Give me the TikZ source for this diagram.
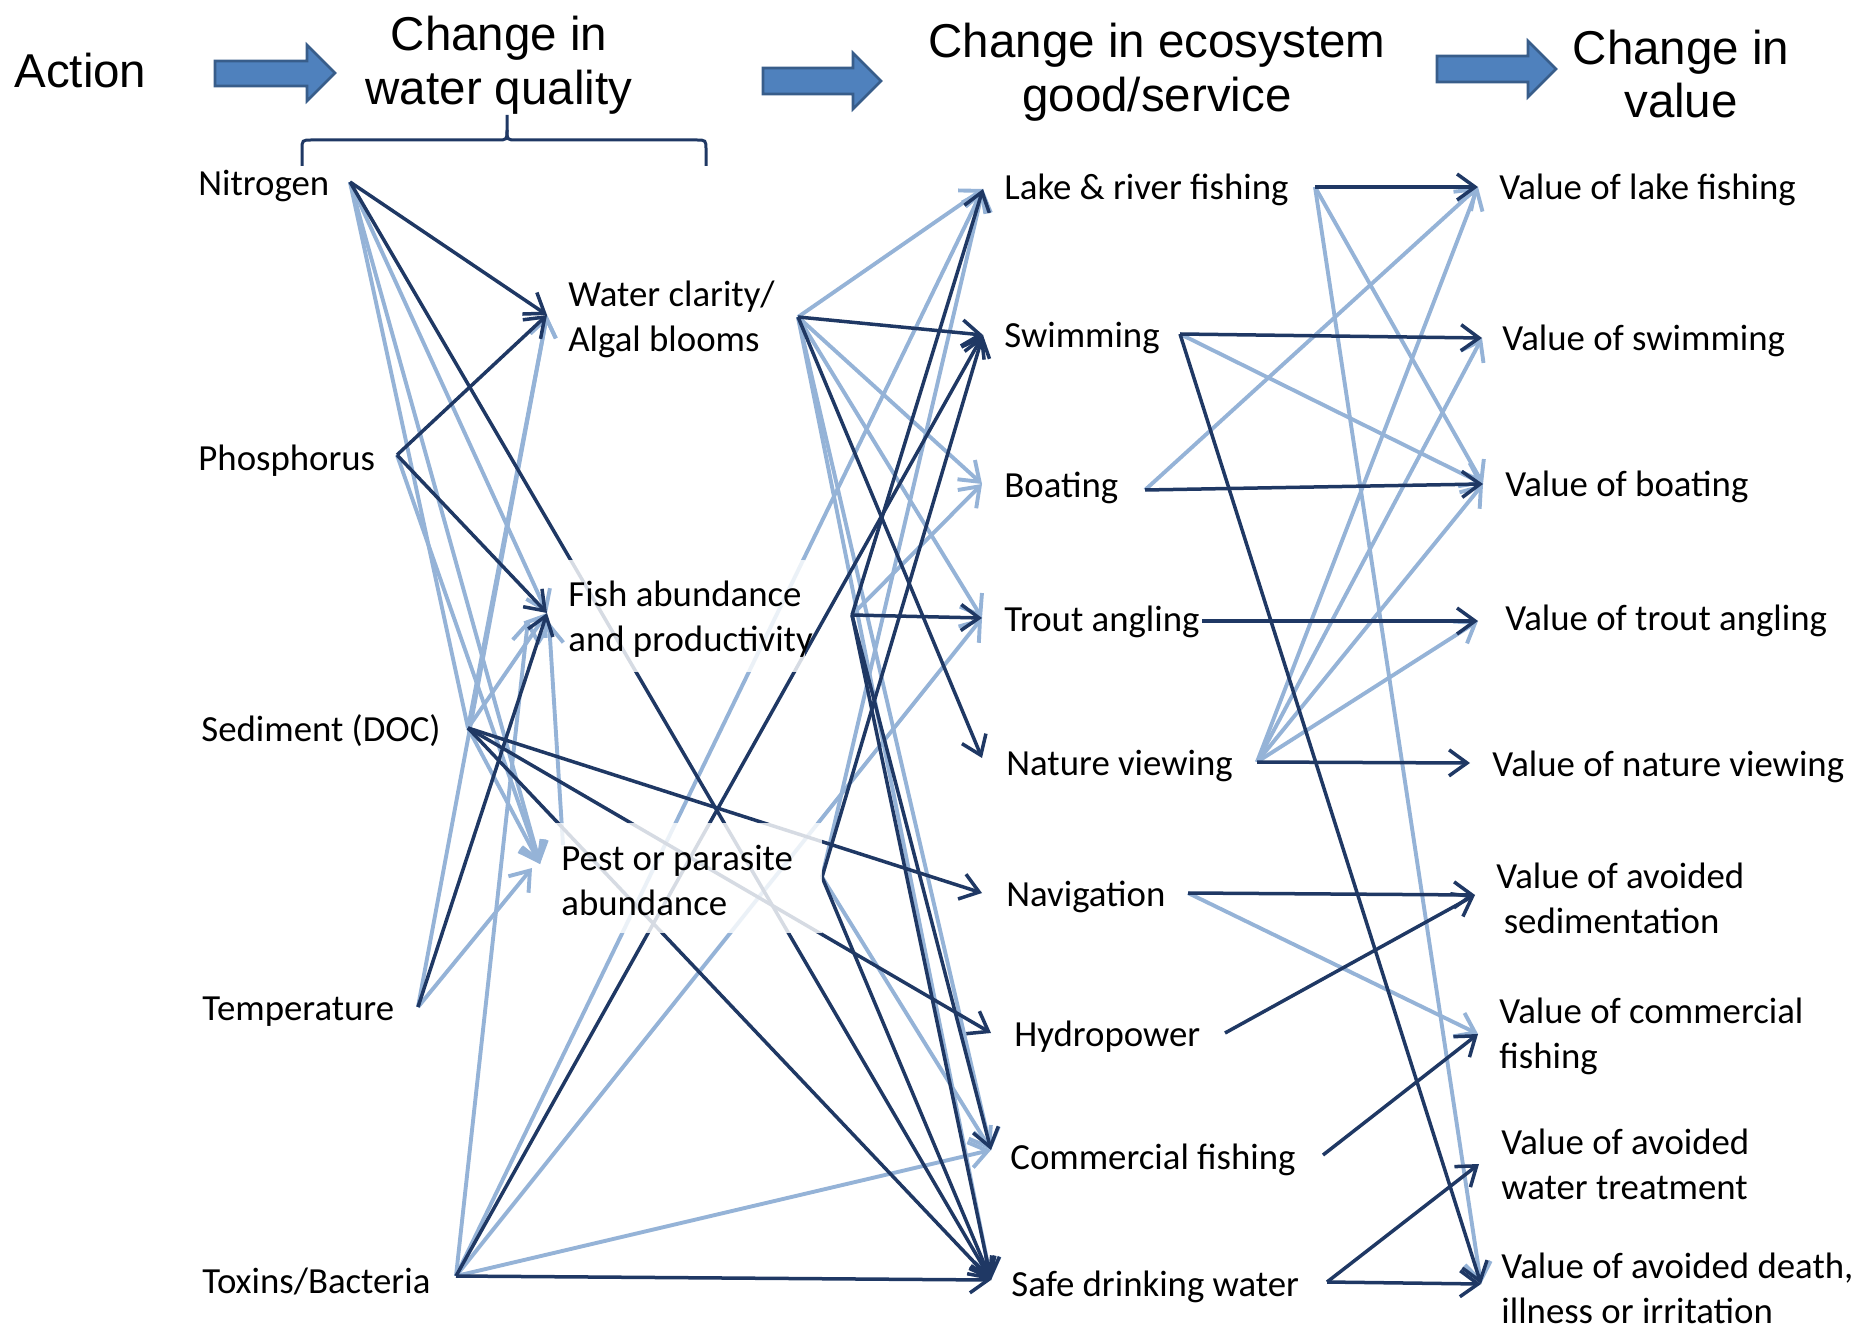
\documentclass[tikz,border=0pt]{standalone}
\usepackage{fontspec}
\setmainfont{Carlito}
\newfontfamily\headfont{Liberation Sans}
\usetikzlibrary{arrows.meta}
\definecolor{dk}{RGB}{31,56,100}
\definecolor{lb}{RGB}{149,179,215}
\definecolor{blk}{RGB}{79,129,189}
\definecolor{blkb}{RGB}{56,93,138}
\pgfdeclarelayer{lines}
\pgfdeclarelayer{fade}
\pgfsetlayers{lines,fade,main}
\begin{document}
\begin{tikzpicture}[x=0.5pt,y=-0.5pt,
  lbl/.style={anchor=west,inner sep=0pt,font=\fontsize{18.4}{22.5}\selectfont,align=left},
  head/.style={inner sep=0pt,font=\headfont\fontsize{23.75}{26.8}\selectfont,align=center},
  dline/.style={draw=dk,line width=1.75pt,-{Straight Barb[length=9pt,width=13pt]}},
  lline/.style={draw=lb,line width=1.95pt,-{Straight Barb[length=9pt,width=13pt]}},
  lplain/.style={draw=lb,line width=1.95pt},
  blockarrow/.style={fill=blk,draw=blkb,line width=1.3pt},
  fadebox/.style={fill=white,fill opacity=0.82,draw=none}]
\useasboundingbox (0,0) rectangle (1855,1325);

% headings
\node[head,anchor=west] (hact) at (14,71) {Action};
\node[head] (hwq) at (499,65) {Change in\\water quality};
\node[head] (heco) at (1157,72) {Change in ecosystem\\good/service};
\node[head] (hval) at (1681,74) {Change in\\value};

% block arrows
\path[blockarrow] (215,61) -- (307,61) -- (307,45) -- (335,73) -- (307,101) -- (307,86) -- (215,86) -- cycle;
\path[blockarrow] (763,68) -- (853,68) -- (853,53) -- (881,81) -- (853,109) -- (853,94) -- (763,94) -- cycle;
\path[blockarrow] (1437,56) -- (1528,56) -- (1528,41) -- (1556,69) -- (1528,97) -- (1528,82) -- (1437,82) -- cycle;

% brace
\draw[dk,line width=1.5pt] (302,166) -- (302,150) .. controls (302,140) .. (312,140) -- (497,140) .. controls (507,140) .. (507,130) -- (507,115);
\draw[dk,line width=1.5pt] (507,130) .. controls (507,140) .. (517,140) -- (696,140) .. controls (706,140) .. (706,150) -- (706,166);

% labels: actions
\node[lbl] (N) at (198,186) {Nitrogen};
\node[lbl] (P) at (198,461) {Phosphorus};
\node[lbl] (S) at (201,731) {Sediment (DOC)};
\node[lbl] (T) at (202,1012) {Temperature};
\node[lbl] (X) at (202,1281) {Toxins/Bacteria};
% water quality
\node[lbl] (WC) at (568,319) {Water clarity/\\Algal blooms};
\node[lbl] (FA) at (568,619) {Fish abundance\\and productivity};
\node[lbl] (PP) at (561,880) {Pest or parasite\\abundance};
% ecosystem goods
\node[lbl] (LF) at (1004,190) {Lake \& river fishing};
\node[lbl] (SW) at (1004,338) {Swimming};
\node[lbl] (BO) at (1004,488) {Boating};
\node[lbl] (TA) at (1004,622) {Trout angling};
\node[lbl] (NV) at (1006,766) {Nature viewing};
\node[lbl] (NA) at (1006,897) {Navigation};
\node[lbl] (HY) at (1014,1037) {Hydropower};
\node[lbl] (CF) at (1010,1160) {Commercial fishing};
\node[lbl] (SD) at (1011,1287) {Safe drinking water};
% values
\node[lbl] (VL) at (1499,190) {Value of lake fishing};
\node[lbl] (VS) at (1502,341) {Value of swimming};
\node[lbl] (VB) at (1505,487) {Value of boating};
\node[lbl] (VT) at (1505,621) {Value of trout angling};
\node[lbl] (VN) at (1492,767) {Value of nature viewing};
\node[lbl] (VSe) at (1496,898) {Value of avoided\\\hspace{0.2em}sedimentation};
\node[lbl] (VC) at (1499,1036) {Value of commercial\\fishing};
\node[lbl] (VW) at (1501,1164) {Value of avoided\\water treatment};
\node[lbl] (VD) at (1501,1288) {Value of avoided death,\\illness or irritation};

% connector end points
\coordinate (Nout) at (350,182);
\coordinate (Pout) at (397,455);
\coordinate (Sout) at (468,728);
\coordinate (Tout) at (418,1007);
\coordinate (Xout) at (456,1276);
\coordinate (WCin) at (547,315);
\coordinate (FAin) at (547,613);
\coordinate (FAin2) at (528,620);
\coordinate (FAin3) at (549,622);
\coordinate (PPin) at (540,864);
\coordinate (PPin2) at (532,868);
\coordinate (WCout) at (798,317);
\coordinate (FAout) at (852,615);
\coordinate (PPout) at (822,877);
\coordinate (PPtop) at (563,845);
\coordinate (LFin) at (983,189);
\coordinate (SWin) at (983,335);
\coordinate (BOin) at (982,484);
\coordinate (TAin) at (982,618);
\coordinate (NVin) at (982,758);
\coordinate (NAin) at (982,893);
\coordinate (HYin) at (991,1033);
\coordinate (CFin) at (991,1150);
\coordinate (SDin) at (991,1280);
\coordinate (LFout) at (1315,187);
\coordinate (SWout) at (1180,334);
\coordinate (BOout) at (1145,490);
\coordinate (TAout) at (1202,621);
\coordinate (NVout) at (1257,762);
\coordinate (NAout) at (1188,893);
\coordinate (HYout) at (1225,1033);
\coordinate (CFout) at (1323,1155);
\coordinate (SDout) at (1327,1282);
\coordinate (VLin) at (1478,187);
\coordinate (VSin) at (1482,338);
\coordinate (VBin) at (1483,484);
\coordinate (VTin) at (1478,621);
\coordinate (VNin) at (1470,763);
\coordinate (VSein) at (1475,895);
\coordinate (VCin) at (1478,1034);
\coordinate (VWin) at (1479,1164);
\coordinate (VDin) at (1481,1284);

\begin{pgfonlayer}{lines}
% light connectors
\draw[lplain] (Nout) -- (Sout);
\draw[lline] (Nout) -- (FAin);
\draw[lline] (Nout) -- (PPin);
\draw[lline] (Pout) -- (PPin);
\draw[lline] (Sout) -- (WCin);
\draw[lline] (Sout) -- (FAin);
\draw[lline] (Sout) -- (PPin);
\draw[lline] (Tout) -- (WCin);
\draw[lline] (Tout) -- (PPin2);
\draw[lline] (Xout) -- (FAin2);
\draw[lline] (Xout) -- (LFin);
\draw[lline] (Xout) -- (TAin);
\draw[lline] (Xout) -- (CFin);
\draw[lline] (PPtop) -- (FAin3);
\draw[lline] (WCout) -- (LFin);
\draw[lline] (WCout) -- (BOin);
\draw[lline] (WCout) -- (TAin);
\draw[lline] (WCout) -- (CFin);
\draw[lline] (WCout) -- (SDin);
\draw[lline] (FAout) -- (BOin);
\draw[lline] (PPout) -- (LFin);
\draw[lline] (PPout) -- (CFin);
\draw[lline] (LFout) -- (VBin);
\draw[lline] (LFout) -- (VDin);
\draw[lline] (SWout) -- (VBin);
\draw[lline] (BOout) -- (VLin);
\draw[lline] (NVout) -- (VLin);
\draw[lline] (NVout) -- (VSin);
\draw[lline] (NVout) -- (VBin);
\draw[lline] (NVout) -- (VTin);
\draw[lline] (NAout) -- (VCin);
% dark connectors
\draw[dline] (Nout) -- (WCin);
\draw[dline] (Nout) -- (SDin);
\draw[dline] (Pout) -- (WCin);
\draw[dline] (Pout) -- (FAin);
\draw[dline] (Sout) -- (NAin);
\draw[dline] (Sout) -- (HYin);
\draw[dline] (Sout) -- (SDin);
\draw[dline] (Tout) -- (FAin);
\draw[dline] (Xout) -- (SWin);
\draw[dline] (Xout) -- (SDin);
\draw[dline] (WCout) -- (SWin);
\draw[dline] (WCout) -- (NVin);
\draw[dline] (FAout) -- (LFin);
\draw[dline] (FAout) -- (TAin);
\draw[dline] (FAout) -- (CFin);
\draw[dline] (FAout) -- (SDin);
\draw[dline] (PPout) -- (SWin);
\draw[dline] (PPout) -- (SDin);
\draw[dline] (LFout) -- (VLin);
\draw[dline] (SWout) -- (VSin);
\draw[dline] (SWout) -- (VDin);
\draw[dline] (BOout) -- (VBin);
\draw[dline] (TAout) -- (VTin);
\draw[dline] (NVout) -- (VNin);
\draw[dline] (NAout) -- (VSein);
\draw[dline] (HYout) -- (VSein);
\draw[dline] (CFout) -- (VCin);
\draw[dline] (SDout) -- (VWin);
\draw[dline] (SDout) -- (VDin);
\end{pgfonlayer}

\begin{pgfonlayer}{fade}
\path[fadebox] (565,560) rectangle (805,672);
\path[fadebox] (552,823) rectangle (822,933);
\end{pgfonlayer}
\end{tikzpicture}
\end{document}
